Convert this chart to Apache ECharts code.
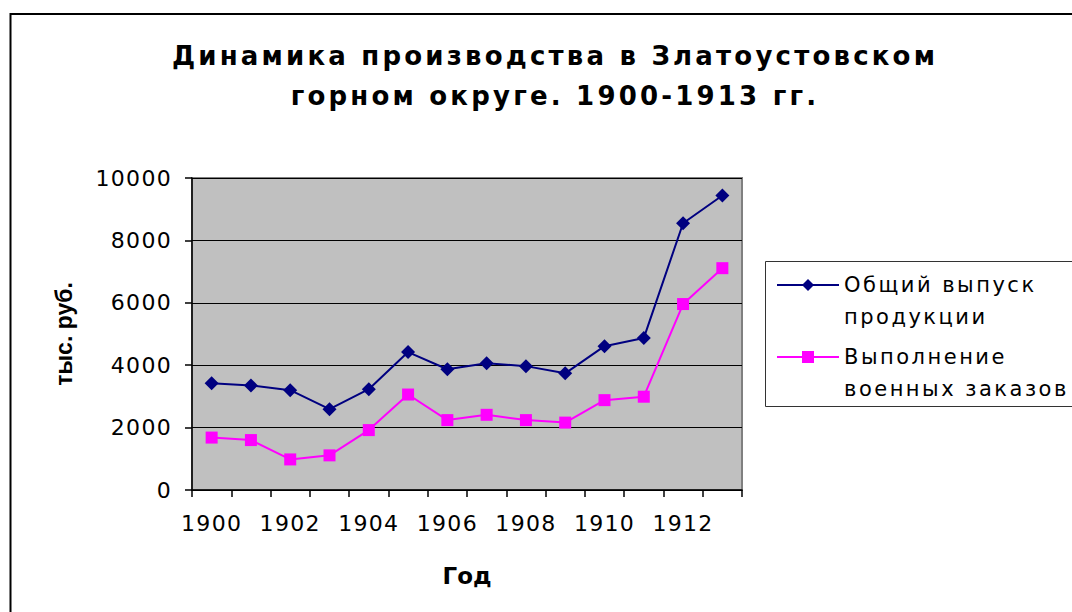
<!DOCTYPE html>
<html>
<head>
<meta charset="utf-8">
<title>Динамика производства</title>
<script src="https://cdn.jsdelivr.net/npm/echarts@6/dist/echarts.min.js"></script>
<style>
    html, body { margin: 0; padding: 0; background: #fff; }
    #line-chart { width: 1072px; height: 612px; }
    /* excel spreads its text, so add spacing by font size */
    #line-chart text[style*="26px"] { letter-spacing: 3.2px; }
    #line-chart text[style*="22px"] { letter-spacing: 1.3px; }
    #line-chart text[style*="21px"] { letter-spacing: 2.5px; }
</style>
</head>
<body>
<div id="line-chart"></div>
<script>

var years = ['1900', '1901', '1902', '1903', '1904', '1905', '1906', '1907', '1908', '1909', '1910', '1911', '1912', '1913'];

// тыс. руб.
var total_output = [3420, 3350, 3200, 2590, 3230, 4420, 3870, 4060, 3970, 3740, 4610, 4870, 8550, 9440];
var military_orders = [1680, 1600, 980, 1110, 1920, 3060, 2240, 2410, 2240, 2160, 2880, 2990, 5960, 7110];

var y_ticks = [0, 2000, 4000, 6000, 8000, 10000];

var font = 'DejaVu Sans, Verdana, sans-serif';
var font_narrow = 'Liberation Sans, Arial, sans-serif';

// Initialization
var myChart = echarts.init(document.getElementById('line-chart'), null, {renderer: 'svg'});

// Chart options
var option = {
    animation: false,
    backgroundColor: '#fff',
    textStyle: {
        fontFamily: font,
        color: '#000'
    },
    title: {
        text: 'Динамика производства в Златоустовском\nгорном округе. 1900-1913 гг.',
        left: 550,
        top: 31,
        textAlign: 'center',
        textStyle: {
            fontFamily: font,
            fontSize: 26,
            fontWeight: 'bold',
            lineHeight: 40,
            color: '#000'
        }
    },
    graphic: [
        {
            // outer frame of the chart area
            type: 'rect',
            shape: {x: 10.5, y: 14, width: 1200, height: 700},
            style: {fill: 'none', stroke: '#000', lineWidth: 2}
        },
        {
            // legend box
            type: 'rect',
            shape: {x: 765.5, y: 261.5, width: 400, height: 145},
            style: {fill: 'none', stroke: '#333', lineWidth: 1}
        }
    ],
    legend: {
        orient: 'vertical',
        left: 776,
        top: 237,
        padding: 0,
        itemWidth: 62,
        itemHeight: 15,
        itemGap: -24,
        data: ['Общий выпуск\nпродукции', 'Выполнение\nвоенных заказов'],
        // blank first line keeps the icon level with the first text line
        formatter: function (name) {
            return '\n' + name;
        },
        textStyle: {
            fontFamily: font,
            fontSize: 21,
            lineHeight: 32,
            color: '#000'
        }
    },
    grid: {
        left: 192,
        right: 330,
        top: 178,
        bottom: 122,
        show: true,
        backgroundColor: '#c0c0c0',
        borderColor: '#808080',
        borderWidth: 2
    },
    xAxis: {
        type: 'category',
        data: years,
        boundaryGap: true,
        name: 'Год',
        nameLocation: 'middle',
        nameGap: 74,
        nameTextStyle: {
            fontFamily: font,
            fontSize: 23,
            fontWeight: 'bold',
            color: '#000'
        },
        axisLine: {
            lineStyle: {color: '#000', width: 1.5}
        },
        axisTick: {
            show: true,
            interval: 0,
            length: 7,
            lineStyle: {color: '#000', width: 1.5}
        },
        axisLabel: {
            interval: 1,
            margin: 22,
            fontFamily: font,
            fontSize: 22,
            color: '#000'
        }
    },
    yAxis: {
        type: 'value',
        min: y_ticks[0],
        max: y_ticks[y_ticks.length - 1],
        interval: 2000,
        name: 'тыс. руб.',
        nameLocation: 'middle',
        nameGap: 117,
        nameTextStyle: {
            fontFamily: font_narrow,
            fontSize: 23,
            fontWeight: 'bold',
            color: '#000'
        },
        axisLine: {
            show: true,
            lineStyle: {color: '#000', width: 1.5}
        },
        axisTick: {
            show: true,
            length: 7,
            lineStyle: {color: '#000', width: 1.5}
        },
        axisLabel: {
            margin: 20,
            fontFamily: font,
            fontSize: 22,
            color: '#000',
            formatter: function (value) {
                return String(value);
            }
        },
        splitLine: {
            lineStyle: {type: 'solid', color: '#000', width: 1}
        }
    },
    series: [
        {
            name: 'Общий выпуск\nпродукции',
            type: 'line',
            data: total_output,
            symbol: 'diamond',
            symbolSize: 14,
            color: '#000080',
            lineStyle: {color: '#000080', width: 2},
            itemStyle: {color: '#000080'}
        }, {
            name: 'Выполнение\nвоенных заказов',
            type: 'line',
            data: military_orders,
            symbol: 'rect',
            symbolSize: 12,
            color: '#ff00ff',
            lineStyle: {color: '#ff00ff', width: 2},
            itemStyle: {color: '#ff00ff'}
        }]
};

myChart.setOption(option);

</script>
</body>
</html>
